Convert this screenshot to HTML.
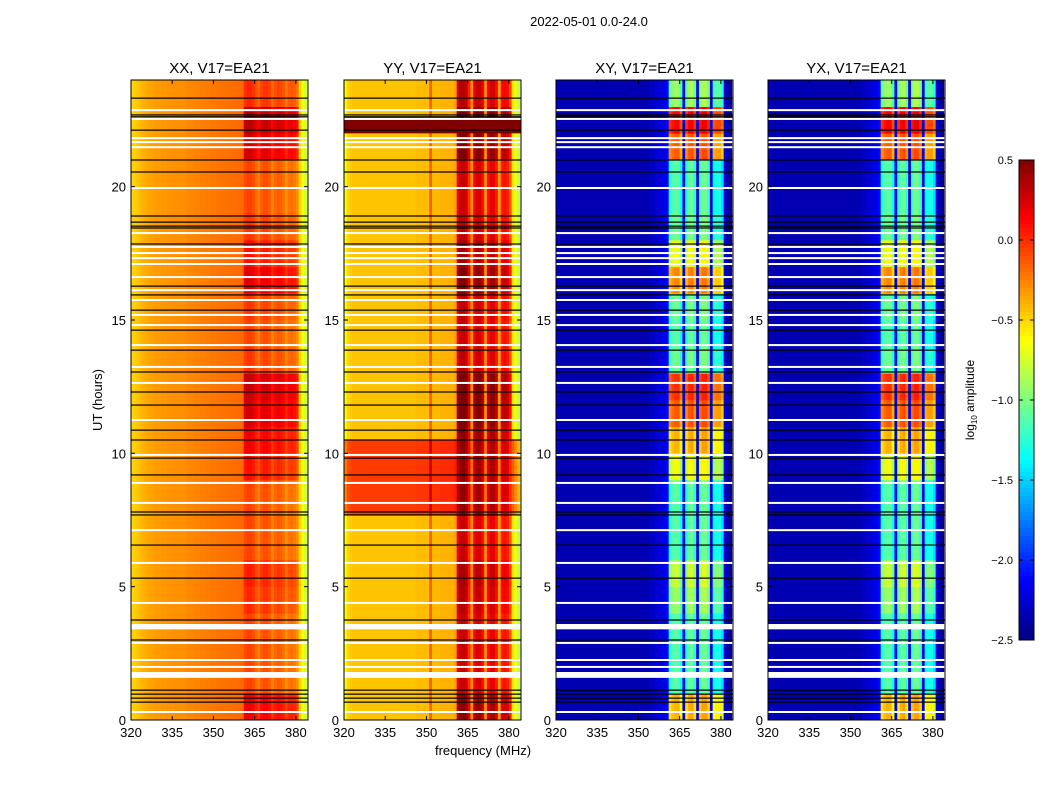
<!DOCTYPE html>
<html><head><meta charset="utf-8">
<style>
body{margin:0;background:#fff;font-family:"Liberation Sans",sans-serif;}
#wrap{position:relative;width:1050px;height:800px;overflow:hidden;}
</style></head>
<body>
<div id="wrap">
<svg id="svg" width="1050" height="800" style="position:absolute;left:0;top:0"></svg>
</div>
<script>
// ---- data ----
const freqs = [];  // 320..383 MHz, 1 MHz channels
for (let f = 320; f < 384; f++) freqs.push(f);
const profXX = [-0.5,-0.48,-0.45,-0.42,-0.4,-0.38,-0.36,-0.35,-0.34,-0.33,-0.33,-0.32,-0.32,-0.31,-0.31,-0.3,-0.3,-0.3,-0.3,-0.3,-0.28,-0.27,-0.27,-0.26,-0.26,-0.25,-0.25,-0.24,-0.24,-0.23,-0.23,-0.22,-0.22,-0.21,-0.21,-0.2,-0.2,-0.2,-0.19,-0.19,-0.18,-0.02,0.02,0.02,-0.02,-0.1,-0.18,-0.06,-0.02,-0.02,-0.08,-0.18,-0.1,-0.06,-0.08,-0.12,-0.22,-0.14,-0.12,-0.15,-0.22,-0.5,-0.65,-0.75];
const profYY = [-0.65,-0.5,-0.47,-0.45,-0.45,-0.45,-0.45,-0.45,-0.45,-0.45,-0.45,-0.45,-0.45,-0.45,-0.45,-0.45,-0.45,-0.45,-0.45,-0.45,-0.45,-0.45,-0.45,-0.45,-0.45,-0.45,-0.43,-0.43,-0.43,-0.43,-0.43,-0.15,-0.42,-0.42,-0.42,-0.4,-0.4,-0.4,-0.4,-0.4,-0.35,0.25,0.35,0.35,0.3,0.05,-0.3,0.2,0.3,0.3,0.15,-0.3,0.15,0.25,0.25,0.1,-0.35,0.1,0.15,0.1,-0.1,-0.55,-0.7,-0.8];
const profXY = [-2.3,-2.35,-2.35,-2.35,-2.35,-2.35,-2.35,-2.35,-2.35,-2.35,-2.35,-2.35,-2.35,-2.35,-2.35,-2.35,-2.35,-2.35,-2.35,-2.35,-2.35,-2.35,-2.35,-2.35,-2.35,-2.35,-2.35,-2.35,-2.35,-2.35,-2.35,-2.35,-2.35,-2.35,-2.3,-2.3,-2.25,-2.25,-2.2,-2.2,-2.1,-1.0,-0.9,-0.85,-0.85,-1.1,-2.2,-1.0,-0.85,-0.8,-1.0,-2.2,-0.9,-0.8,-0.8,-0.95,-2.2,-1.1,-1.05,-1.05,-1.2,-2.2,-2.4,-2.45];
const profYX = profXY;
// band boost by hour 0..23
const boost = [0.9,0.2,0.2,0.3,0.5,0.6,0.3,0.2,0.3,0.7,0.9,1.1,1.2,0.4,0.3,0.4,1.0,0.7,0.4,0.3,0.3,1.1,1.3,0.5];
const yyHot = [[7.7,10.5,0.4]];
const yySat = [[22.0,22.6]];
const blackLines = [23.32,22.69,22.62,22.12,21.0,20.55,18.9,18.67,18.52,18.45,17.85,16.27,15.94,15.37,14.62,13.87,13.05,12.3,11.81,10.87,10.5,9.82,9.19,7.8,7.69,6.56,5.32,3.75,3.45,3.0,1.12,0.97,0.82,0.67];
const whiteLines = [22.87,22.54,21.82,21.67,21.48,19.95,18.26,17.74,17.51,17.32,17.1,16.61,16.12,15.75,15.19,14.81,14.06,13.24,12.64,11.25,9.94,8.89,8.14,7.12,5.89,4.39,2.89,2.25,1.99,0.3];
const whiteBands = [[3.4,3.6],[1.58,1.8]];
const xTicks = [320,335,350,365,380];
const yTicks = [0,5,10,15,20];
const cbTicks = [0.5,0.0,-0.5,-1.0,-1.5,-2.0,-2.5];
const panels = [
 {name:"XX", title:"XX, V17=EA21", prof:profXX, left:131, bs:0.4, bo:0.5, thr:-0.23},
 {name:"YY", title:"YY, V17=EA21", prof:profYY, left:344, bs:0.3, bo:0.5, thr:-0.3},
 {name:"XY", title:"XY, V17=EA21", prof:profXY, left:556, bs:1.3, bo:0.55, thr:-1.6},
 {name:"YX", title:"YX, V17=EA21", prof:profYX, left:768, bs:1.3, bo:0.55, thr:-1.6}
];
// ---- layout ----
const W=177, TOP=80, BOT=720, FMIN=320, FMAX=384.4, TMAX=24;
const NS="http://www.w3.org/2000/svg";
const svg=document.getElementById('svg');
function xs(p,f){return p.left+(f-FMIN)/(FMAX-FMIN)*W;}
function ys(t){return BOT-(t/TMAX)*(BOT-TOP);}
function jet(v){
  let x=(v+2.5)/3; x=Math.max(0,Math.min(1,x));
  const c=t=>Math.max(0,Math.min(1,1.5-Math.abs(4*x-t)));
  return `rgb(${Math.round(255*c(3))},${Math.round(255*c(2))},${Math.round(255*c(1))})`;
}
function mk(tag,attrs,parent){const e=document.createElementNS(NS,tag);for(const k in attrs)e.setAttribute(k,attrs[k]);(parent||svg).appendChild(e);return e;}
function txt(x,y,s,size,anchor,parent){const e=mk('text',{x:x,y:y,'font-size':size,'text-anchor':anchor||'middle','font-family':'Liberation Sans, sans-serif'},parent);e.textContent=s;return e;}
const isBand=f=>f>=361&&f<=380;
panels.forEach(p=>{
  const g=mk('g',{});
  
  
  for(let h=0;h<24;h++){
    for(let i=0;i<freqs.length;i++){
      const f=freqs[i];
      let v=p.prof[i];
      if(isBand(f)&&v>p.thr) v+=p.bs*Math.max(-0.2,boost[h]-p.bo);
      const x0=xs(p,f), x1=xs(p,f+1);
      const r=mk('rect',{x:x0,y:ys(h+1),width:x1-x0+0.3,height:ys(h)-ys(h+1)+0.3,fill:jet(v)},g);
      
      
    }
  }
  if(p.name==="YY"){
    yyHot.forEach(r=>{
      for(let i=0;i<freqs.length;i++){
        const f=freqs[i]; let v=p.prof[i]; v = isBand(f)? v+0.1 : v+r[2];
        const e=mk('rect',{x:xs(p,f),y:ys(r[1]),width:xs(p,f+1)-xs(p,f)+0.3,height:ys(r[0])-ys(r[1]),fill:jet(v)},g);
        
        
      }
    });
    yySat.forEach(r=>{
      const e=mk('rect',{x:p.left,y:ys(r[1]),width:W,height:ys(r[0])-ys(r[1]),fill:jet(0.5)},g);
      
      
    });
  }
  blackLines.forEach(t=>{
    const e=mk('rect',{x:p.left,y:ys(t)-0.6,width:W,height:1.2,fill:'#000'},g);
    
    
  });
  whiteLines.forEach(t=>{
    const e=mk('rect',{x:p.left,y:ys(t)-1,width:W,height:2,fill:'#fff'},g);
    
    
  });
  whiteBands.forEach(b=>{
    const e=mk('rect',{x:p.left,y:ys(b[1]),width:W,height:ys(b[0])-ys(b[1]),fill:'#fff'},g);
    
    
  });
  const fr=mk('rect',{x:p.left,y:TOP,width:W,height:BOT-TOP,fill:'none',stroke:'#000','stroke-width':1},g);
  
  
  xTicks.forEach(f=>{
    const x=xs(p,f);
    mk('line',{x1:x,x2:x,y1:BOT,y2:BOT-4,stroke:'#000'},g);
    mk('line',{x1:x,x2:x,y1:TOP,y2:TOP+4,stroke:'#000'},g);
    const l=txt(x,BOT+17,String(f),13,'middle',g);
    
    
  });
  yTicks.forEach(t=>{
    const y=ys(t);
    mk('line',{x1:p.left,x2:p.left+4,y1:y,y2:y,stroke:'#000'},g);
    mk('line',{x1:p.left+W,x2:p.left+W-4,y1:y,y2:y,stroke:'#000'},g);
    const l=txt(p.left-5,y+5,String(t),13,'end',g);
    
    
  });
  const tt=txt(p.left+W/2,73,p.title,15,'middle',g);
  
  
});
let e=txt(589,26,"2022-05-01 0.0-24.0",13);


e=txt(483,755,"frequency (MHz)",13);


e=txt(0,0,"UT (hours)",13);
e.setAttribute('transform','translate(102,400) rotate(-90)');


// colorbar
const cb=mk('g',{});


const CBX=1019,CBW=15,CBT=160,CBB=640;
for(let i=0;i<120;i++){
  const v=0.5-3*(i+0.5)/120;
  mk('rect',{x:CBX,y:CBT+i*(CBB-CBT)/120,width:CBW,height:(CBB-CBT)/120+0.5,fill:jet(v)},cb);
}
mk('rect',{x:CBX,y:CBT,width:CBW,height:CBB-CBT,fill:'none',stroke:'#000'},cb);
cbTicks.forEach(v=>{
  const y=CBT+(0.5-v)/3*(CBB-CBT);
  mk('line',{x1:CBX+CBW-4,x2:CBX+CBW,y1:y,y2:y,stroke:'#000'},cb);
  mk('line',{x1:CBX,x2:CBX+4,y1:y,y2:y,stroke:'#000'},cb);
  const l=txt(CBX-6,y+4,v.toFixed(1).replace('-','\u2212'),11,'end',cb);
  
  
});
e=mk('text',{transform:'translate(974,400) rotate(-90)','font-size':12,'text-anchor':'middle','font-family':'Liberation Sans, sans-serif'});
e.innerHTML='log<tspan font-size="8" dy="3">10</tspan><tspan dy="-3"> amplitude</tspan>';


</script>
</body></html>
